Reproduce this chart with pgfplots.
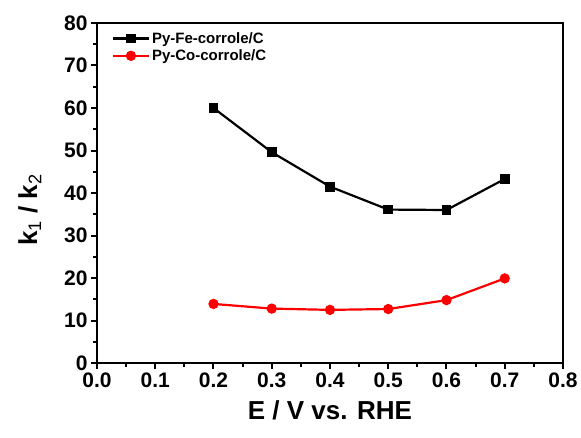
\documentclass[border=0pt]{standalone}
\usepackage{pgfplots}
\pgfplotsset{compat=1.18}
\usepackage{fontspec}
\setmainfont{Liberation Sans}
\begin{document}
\begin{tikzpicture}
\path[use as bounding box] (-97bp,-75bp) rectangle (484bp,363bp);
\begin{axis}[
  at={(0,0)}, anchor=south west,
  scale only axis, width=466bp, height=340bp,
  xmin=0, xmax=0.8, ymin=0, ymax=80,
  xtick={0,0.1,...,0.8}, ytick={0,10,...,80},
  minor x tick num=1, minor y tick num=1,
  xticklabel style={/pgf/number format/.cd, fixed, fixed zerofill, precision=1},
  /pgf/number format/assume math mode=true,
  tick label style={font=\fontsize{21bp}{23bp}\selectfont\bfseries},
  label style={font=\fontsize{26bp}{28bp}\selectfont\bfseries},
  xlabel={E / V vs. RHE}, ylabel={k\textsubscript{\mdseries 1} / k\textsubscript{\mdseries 2}},
  xlabel style={at={(axis description cs:0.5,-0.138)}, anchor=center},
  ylabel style={at={(axis description cs:-0.144,0.45)}, anchor=center},
  tick align=outside, tick pos=left,
  major tick length=6bp, minor tick length=3.5bp,
  axis line style={line width=2.4bp}, tick style={line width=2bp, black},
  legend style={draw=none, fill=none, at={(0.025,0.985)}, anchor=north west,
    font=\fontsize{15bp}{17bp}\selectfont\bfseries, row sep=1bp,
    /tikz/every even column/.append style={column sep=4bp}},
  legend cell align=left,
  legend image code/.code={\draw[#1] (0bp,0bp) -- (36bp,0bp);
    \draw[#1, only marks] plot coordinates {(18bp,0bp)};},
]
\addplot[black, line width=2.2bp, mark=square*, mark size=3.8bp] coordinates {
  (0.2,60.0) (0.3,49.6) (0.4,41.5) (0.5,36.1) (0.6,36.0) (0.7,43.3)};
\addplot[red, line width=2.2bp, mark=*, mark size=4bp] coordinates {
  (0.2,13.9) (0.3,12.8) (0.4,12.5) (0.5,12.7) (0.6,14.8) (0.7,19.9)};
\legend{Py-Fe-corrole/C, Py-Co-corrole/C}
\end{axis}
\end{tikzpicture}
\end{document}
